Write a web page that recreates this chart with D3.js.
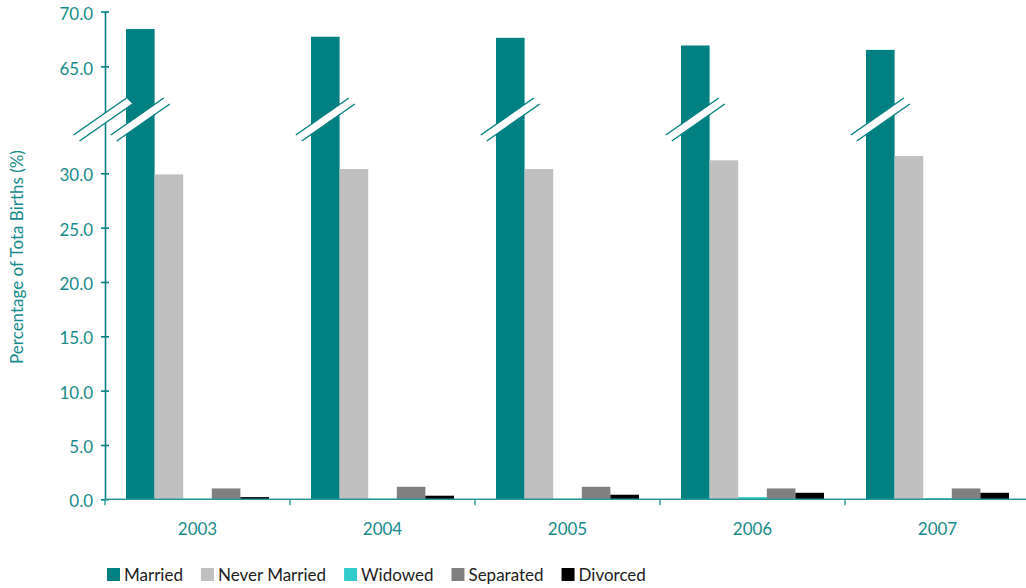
<!DOCTYPE html>
<html>
<head>
<meta charset="utf-8">
<script src="https://cdn.jsdelivr.net/npm/d3@7"></script>
<style>
  html, body { margin: 0; padding: 0; background: #fff; }
  svg { display: block; font-family: Lato, "Open Sans", sans-serif; }
</style>
</head>
<body>
<svg id="chart" width="1026" height="588"></svg>
<script>
// ---- data ----
const years = ["2003", "2004", "2005", "2006", "2007"];
const seriesNames = ["Married", "Never Married", "Widowed", "Separated", "Divorced"];
const married      = [68.4, 67.7, 67.6, 66.9, 66.5];
const neverMarried = [29.9, 30.4, 30.4, 31.2, 31.6];
const widowed      = [0.05, 0.05, 0.05, 0.2, 0.1];
const separated    = [1.0, 1.15, 1.15, 1.0, 1.0];
const divorced     = [0.2, 0.33, 0.42, 0.6, 0.6];
const yTickValues  = [0, 5, 10, 15, 20, 25, 30, 65, 70];
const yTitle = "Percentage of Tota Births (%)";

const seriesValues = [married, neverMarried, widowed, separated, divorced];
const colors = ["#008080", "#C0C0C0", "#33CCCC", "#808080", "#000000"];
const teal = "#008080";
const textTeal = "#178b8b";

const svg = d3.select("#chart");

// ---- scales ----
const x0 = d3.scaleBand().domain(years).range([105, 1030]).padding(0);
const x1 = d3.scaleBand().domain(seriesNames).range([21, 164]).padding(0);
// broken axis: lower segment 0..35, upper segment 60.2..70
const y = d3.scaleLinear().domain([0, 35, 60.2, 70]).range([499.3, 119, 119, 11.5]);

// ---- bars ----
const groups = svg.append("g").selectAll("g")
  .data(years).join("g")
  .attr("transform", d => `translate(${x0(d)},0)`);

groups.selectAll("rect")
  .data((yr, i) => seriesNames.map((s, k) => ({ s, k, v: seriesValues[k][i] })))
  .join("rect")
  .attr("x", d => x1(d.s))
  .attr("width", x1.bandwidth())
  .attr("y", d => y(d.v))
  .attr("height", d => y(0) - y(d.v))
  .attr("fill", d => colors[d.k]);

// ---- y axis ----
const yAxis = svg.append("g")
  .attr("transform", "translate(105,0)")
  .call(d3.axisLeft(y).tickValues(yTickValues).tickFormat(d3.format(".1f"))
    .tickSizeInner(4).tickSizeOuter(0).tickPadding(8));
yAxis.select(".domain").attr("stroke", teal).attr("stroke-width", 1.6);
yAxis.selectAll(".tick line").attr("x1", 4).attr("stroke", teal).attr("stroke-width", 1.6);
yAxis.selectAll(".tick text").attr("fill", textTeal).style("font-size", "17px")
  .attr("dy", "0.45em")
  .style("font-family", "Lato, 'Open Sans', sans-serif");

// ---- x axis ----
svg.append("line")
  .attr("x1", x0.range()[0]).attr("x2", 1026)
  .attr("y1", y(0)).attr("y2", y(0))
  .attr("stroke", "#2b9898").attr("stroke-width", 1.6);
svg.append("g").selectAll("line")
  .data(years).join("line")
  .attr("x1", d => x0(d)).attr("x2", d => x0(d))
  .attr("y1", y(0)).attr("y2", y(0) + 6)
  .attr("stroke", "#2b9898").attr("stroke-width", 1.4);
svg.append("g").selectAll("text")
  .data(years).join("text")
  .attr("x", d => x0(d) + x0.bandwidth() / 2)
  .attr("y", 535)
  .attr("text-anchor", "middle")
  .attr("fill", textTeal)
  .style("font-size", "17px")
  .text(d => d);

// ---- break marks ----
const breakY = 119;
const markPts = [[-29.5, 16], [23.5, -21], [29.5, -15], [-23.5, 22]];
const markCenters = [105 - 2].concat(years.map(yr => x0(yr) + x1("Married") + x1.bandwidth() / 2));
const marks = svg.append("g").selectAll("g")
  .data(markCenters).join("g")
  .attr("transform", d => `translate(${d},${breakY})`);
marks.append("polygon")
  .attr("points", markPts.map(p => p.join(",")).join(" "))
  .attr("fill", "#fff");
marks.append("line")
  .attr("x1", markPts[0][0]).attr("y1", markPts[0][1])
  .attr("x2", markPts[1][0]).attr("y2", markPts[1][1])
  .attr("stroke", teal).attr("stroke-width", 1.4);
marks.append("line")
  .attr("x1", markPts[3][0]).attr("y1", markPts[3][1])
  .attr("x2", markPts[2][0]).attr("y2", markPts[2][1])
  .attr("stroke", teal).attr("stroke-width", 1.4);

// ---- y title ----
svg.append("text")
  .attr("transform", "translate(23,257) rotate(-90)")
  .attr("text-anchor", "middle")
  .attr("fill", textTeal)
  .style("font-size", "17px")
  .text(yTitle);

// ---- legend ----
const legend = svg.append("g").attr("transform", "translate(107,568)");
let lx = 0;
seriesNames.forEach((s, k) => {
  const g = legend.append("g").attr("transform", `translate(${lx},0)`);
  g.append("rect").attr("width", 13).attr("height", 13).attr("fill", colors[k]);
  const t = g.append("text").attr("x", 17).attr("y", 12.5)
    .attr("fill", "#222").style("font-size", "17px").text(s);
  lx += 17 + t.node().getComputedTextLength() + 18;
});
</script>
</body>
</html>
